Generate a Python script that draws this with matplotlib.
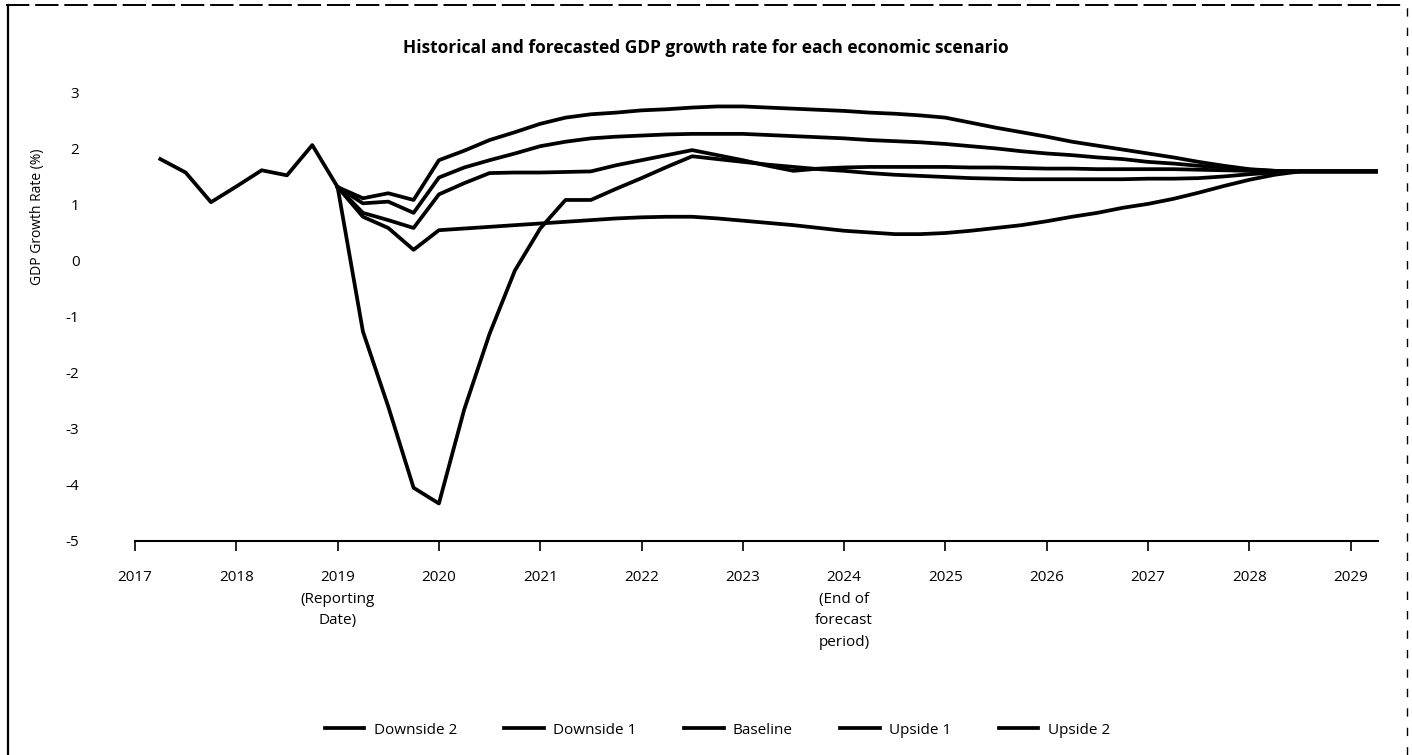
import numpy as np
import matplotlib
matplotlib.use("Agg")
import matplotlib.pyplot as plt
from matplotlib.lines import Line2D

plt.rcParams['font.family'] = ['Open Sans', 'DejaVu Sans']
plt.rcParams['axes.unicode_minus'] = False

# historical quarters (2017 Q2 .. 2019 Q1)
hist_years = [2017.25, 2017.5, 2017.75, 2018.0, 2018.25, 2018.5, 2018.75, 2019.0]
hist_gdp = [1.82, 1.58, 1.05, 1.33, 1.62, 1.53, 2.07, 1.32]

# forecast quarters 2019.0 .. 2029.25
years = np.arange(2019.0, 2029.26, 0.25)

downside_2 = [1.32, -1.26, -2.60, -4.05, -4.33, -2.65, -1.30, -0.17, 0.58, 1.09,
              1.09, 1.29, 1.48, 1.68, 1.87, 1.82, 1.77, 1.72, 1.68, 1.64,
              1.61, 1.57, 1.54, 1.52, 1.50, 1.48, 1.47, 1.46, 1.46, 1.46,
              1.46, 1.46, 1.47, 1.47, 1.48, 1.51, 1.55, 1.58, 1.60, 1.60,
              1.60, 1.60]
downside_1 = [1.32, 0.79, 0.59, 0.20, 0.55, 0.58, 0.61, 0.64, 0.67, 0.70,
              0.73, 0.76, 0.78, 0.79, 0.79, 0.76, 0.72, 0.68, 0.64, 0.59,
              0.54, 0.51, 0.48, 0.48, 0.50, 0.54, 0.59, 0.64, 0.71, 0.79,
              0.86, 0.95, 1.02, 1.11, 1.22, 1.34, 1.45, 1.54, 1.60, 1.60,
              1.60, 1.60]
baseline = [1.32, 0.86, 0.73, 0.59, 1.19, 1.39, 1.57, 1.58, 1.58, 1.59,
            1.60, 1.71, 1.80, 1.89, 1.98, 1.89, 1.80, 1.70, 1.61, 1.65,
            1.67, 1.68, 1.68, 1.68, 1.68, 1.67, 1.67, 1.66, 1.65, 1.65,
            1.64, 1.64, 1.64, 1.64, 1.63, 1.62, 1.61, 1.60, 1.60, 1.60,
            1.60, 1.60]
upside_1 = [1.32, 1.03, 1.06, 0.86, 1.49, 1.67, 1.80, 1.92, 2.05, 2.13,
            2.19, 2.22, 2.24, 2.26, 2.27, 2.27, 2.27, 2.25, 2.23, 2.21,
            2.19, 2.16, 2.14, 2.12, 2.09, 2.05, 2.01, 1.96, 1.92, 1.89,
            1.85, 1.82, 1.77, 1.74, 1.70, 1.67, 1.63, 1.61, 1.60, 1.60,
            1.60, 1.60]
upside_2 = [1.32, 1.12, 1.21, 1.09, 1.80, 1.97, 2.16, 2.30, 2.45, 2.56,
            2.62, 2.65, 2.69, 2.71, 2.74, 2.76, 2.76, 2.74, 2.72, 2.70,
            2.68, 2.65, 2.63, 2.60, 2.56, 2.47, 2.38, 2.30, 2.22, 2.13,
            2.06, 1.99, 1.92, 1.85, 1.77, 1.70, 1.64, 1.61, 1.60, 1.60,
            1.60, 1.60]

scenarios = ['Downside 2', 'Downside 1', 'Baseline', 'Upside 1', 'Upside 2']
series = [downside_2, downside_1, baseline, upside_1, upside_2]

tick_years = list(range(2017, 2030))
tick_labels = [str(y) for y in tick_years]
tick_labels[2] = '2019\n(Reporting\nDate)'
tick_labels[7] = '2024\n(End of\nforecast\nperiod)'

fig = plt.figure(figsize=(14.12, 7.55), dpi=100)
ax = fig.add_axes([135 / 1412, 1 - 541 / 755, (1378 - 135) / 1412, (541 - 93) / 755])

lw = 2.7
ax.plot(hist_years, hist_gdp, color='black', lw=lw, solid_joinstyle='round')
for name, vals in zip(scenarios, series):
    ax.plot(years, vals, color='black', lw=lw, solid_joinstyle='round', label=name)

ax.set_xlim(2017, 2029.27)
ax.set_ylim(-5, 3)
ax.set_xticks(tick_years)
ax.set_xticklabels(tick_labels, fontsize=11, linespacing=1.6, va='top')
ax.set_yticks(range(-5, 4))
ax.tick_params(axis='y', length=0, pad=40, labelsize=11)
ax.tick_params(axis='x', length=7, width=1.2, pad=14)
for s in ['top', 'right', 'left']:
    ax.spines[s].set_visible(False)
ax.spines['bottom'].set_linewidth(1.5)

fig.text(706 / 1412, 1 - 48 / 755,
         'Historical and forecasted GDP growth rate for each economic scenario',
         ha='center', va='center', fontsize=12.5, fontweight='bold')
fig.text(38 / 1412, 1 - 217 / 755, 'GDP Growth Rate (%)', rotation=90,
         ha='center', va='center', fontsize=10)

fig.legend(loc='center', bbox_to_anchor=(0.508, 1 - 730 / 755), ncol=5,
           frameon=False, fontsize=11, handlelength=2.6, columnspacing=3.1,
           handletextpad=0.6)

# scanned page frame
fig.add_artist(Line2D([0.004, 0.996], [0.993, 0.993], color='black', lw=1.4,
                      ls=(0, (12, 3)), transform=fig.transFigure))
fig.add_artist(Line2D([0.0055, 0.0055], [0.0, 0.993], color='black', lw=1.6,
                      transform=fig.transFigure))
fig.add_artist(Line2D([0.9965, 0.9965], [0.0, 0.993], color='black', lw=1.0,
                      ls=(0, (6, 8)), transform=fig.transFigure))

fig.savefig('out.png', dpi=100)
